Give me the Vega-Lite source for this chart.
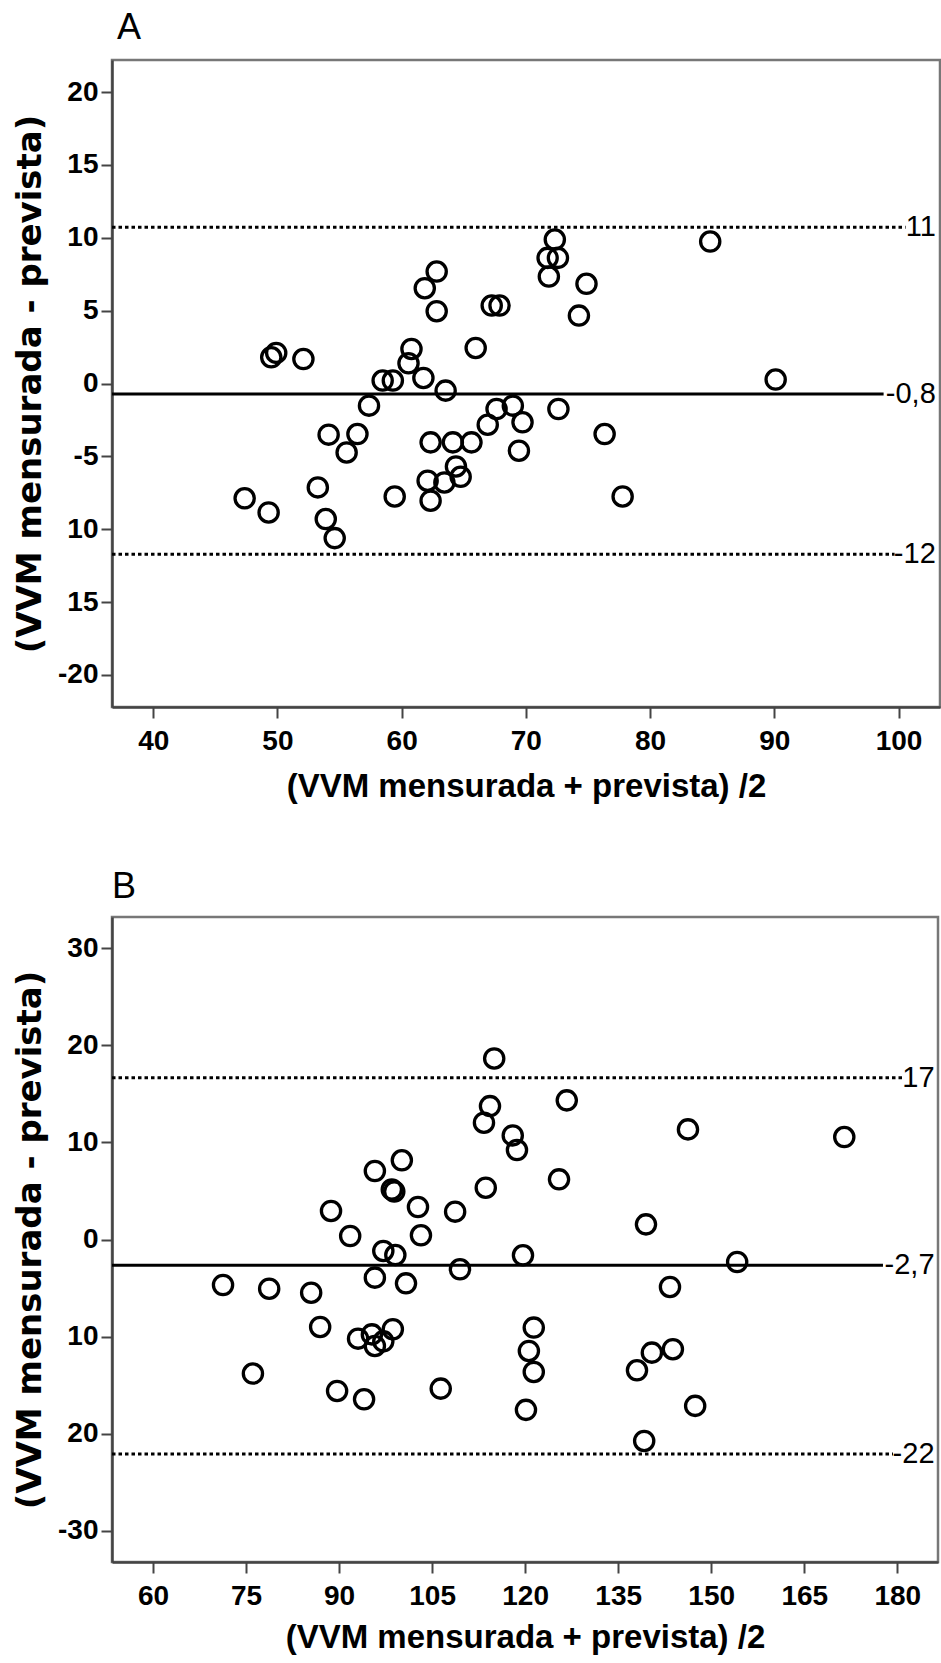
{
  "$schema": "https://vega.github.io/schema/vega-lite/v6.json",
  "padding": {"left": 12, "top": 8, "right": 0, "bottom": 0},
  "background": "white",
  "datasets": {
    "a_points": [
      {"mean": 84.84, "diff": 9.74}, {"mean": 72.33, "diff": 9.88}, {"mean": 71.75, "diff": 8.62}, {"mean": 72.58, "diff": 8.62},
      {"mean": 71.85, "diff": 7.34}, {"mean": 74.88, "diff": 6.84}, {"mean": 62.82, "diff": 7.68}, {"mean": 61.86, "diff": 6.54},
      {"mean": 62.82, "diff": 4.96}, {"mean": 67.25, "diff": 5.35}, {"mean": 67.88, "diff": 5.35}, {"mean": 74.27, "diff": 4.66},
      {"mean": 49.5, "diff": 1.8}, {"mean": 49.9, "diff": 2.1}, {"mean": 52.09, "diff": 1.68}, {"mean": 60.79, "diff": 2.37},
      {"mean": 60.55, "diff": 1.39}, {"mean": 65.96, "diff": 2.44}, {"mean": 58.47, "diff": 0.2}, {"mean": 59.29, "diff": 0.2},
      {"mean": 61.75, "diff": 0.38}, {"mean": 90.11, "diff": 0.27}, {"mean": 63.54, "diff": -0.49}, {"mean": 57.37, "diff": -1.52},
      {"mean": 67.64, "diff": -1.75}, {"mean": 68.95, "diff": -1.52}, {"mean": 72.62, "diff": -1.75}, {"mean": 66.93, "diff": -2.83},
      {"mean": 69.73, "diff": -2.66}, {"mean": 54.12, "diff": -3.51}, {"mean": 56.44, "diff": -3.47}, {"mean": 76.34, "diff": -3.47},
      {"mean": 55.57, "diff": -4.73}, {"mean": 62.33, "diff": -4.04}, {"mean": 64.12, "diff": -4.04}, {"mean": 65.62, "diff": -4.04},
      {"mean": 69.44, "diff": -4.61}, {"mean": 64.37, "diff": -5.69}, {"mean": 64.75, "diff": -6.4}, {"mean": 62.09, "diff": -6.67},
      {"mean": 63.44, "diff": -6.79}, {"mean": 53.25, "diff": -7.13}, {"mean": 47.36, "diff": -7.88}, {"mean": 59.44, "diff": -7.75},
      {"mean": 62.33, "diff": -8.04}, {"mean": 77.79, "diff": -7.75}, {"mean": 49.29, "diff": -8.85}, {"mean": 53.89, "diff": -9.3},
      {"mean": 54.61, "diff": -10.61}
    ],
    "a_lines": [
      {"line": "upper", "value": 10.73, "label": "11"},
      {"line": "mean", "value": -0.72, "label": "-0,8"},
      {"line": "lower", "value": -11.71, "label": "-12"}
    ],
    "b_points": [
      {"mean": 115.01, "diff": 18.66}, {"mean": 114.33, "diff": 13.75}, {"mean": 126.71, "diff": 14.34}, {"mean": 113.36, "diff": 12.04},
      {"mean": 146.25, "diff": 11.35}, {"mean": 171.45, "diff": 10.56}, {"mean": 118.0, "diff": 10.73}, {"mean": 118.68, "diff": 9.22},
      {"mean": 100.12, "diff": 8.16}, {"mean": 95.77, "diff": 7.06}, {"mean": 125.46, "diff": 6.2}, {"mean": 98.5, "diff": 5.15},
      {"mean": 98.9, "diff": 4.95}, {"mean": 113.65, "diff": 5.34}, {"mean": 102.72, "diff": 3.35}, {"mean": 88.7, "diff": 2.94},
      {"mean": 108.71, "diff": 2.87}, {"mean": 139.48, "diff": 1.56}, {"mean": 91.79, "diff": 0.36}, {"mean": 103.2, "diff": 0.43},
      {"mean": 97.13, "diff": -1.18}, {"mean": 99.07, "diff": -1.6}, {"mean": 119.65, "diff": -1.63}, {"mean": 154.18, "diff": -2.32},
      {"mean": 109.49, "diff": -3.07}, {"mean": 95.77, "diff": -3.93}, {"mean": 71.29, "diff": -4.69}, {"mean": 100.79, "diff": -4.52},
      {"mean": 78.73, "diff": -5.07}, {"mean": 85.5, "diff": -5.48}, {"mean": 143.35, "diff": -4.89}, {"mean": 86.95, "diff": -9.01},
      {"mean": 121.39, "diff": -9.08}, {"mean": 98.67, "diff": -9.25}, {"mean": 93.06, "diff": -10.22}, {"mean": 95.29, "diff": -9.78},
      {"mean": 97.13, "diff": -10.5}, {"mean": 95.77, "diff": -10.97}, {"mean": 120.6, "diff": -11.49}, {"mean": 140.43, "diff": -11.66},
      {"mean": 143.82, "diff": -11.31}, {"mean": 76.11, "diff": -13.82}, {"mean": 121.39, "diff": -13.65}, {"mean": 138.03, "diff": -13.48},
      {"mean": 89.68, "diff": -15.61}, {"mean": 94.03, "diff": -16.47}, {"mean": 106.39, "diff": -15.37}, {"mean": 120.13, "diff": -17.56},
      {"mean": 147.41, "diff": -17.15}, {"mean": 139.19, "diff": -20.76}
    ],
    "b_lines": [
      {"line": "upper", "value": 16.67, "label": "17"},
      {"line": "mean", "value": -2.66, "label": "-2,7"},
      {"line": "lower", "value": -22.1, "label": "-22"}
    ]
  },
  "config": {
    "view": {"stroke": "#777777", "strokeWidth": 2.5},
    "axis": {
      "grid": false,
      "labelFont": "Liberation Sans",
      "labelFontWeight": "bold",
      "labelFontSize": 28,
      "labelColor": "black",
      "tickSize": 11,
      "tickWidth": 2,
      "tickColor": "#444444",
      "domainColor": "#444444",
      "domainWidth": 2.5,
      "titleColor": "black",
      "titleFontWeight": "bold"
    },
    "axisX": {"labelPadding": 9, "titleFont": "Liberation Sans", "titleFontSize": 33},
    "axisY": {"labelPadding": 3, "titleFont": "DejaVu Sans", "titleFontSize": 34, "titlePadding": 10},
    "title": {"font": "Liberation Sans", "fontSize": 36, "fontWeight": "normal", "anchor": "start", "frame": "group", "color": "black"}
  },
  "spacing": 62,
  "vconcat": [
    {
      "title": {"text": "A", "dx": 5, "offset": 13},
      "width": 828,
      "height": 647,
      "layer": [
        {
          "data": {"name": "a_lines"},
          "transform": [{"filter": "datum.line == 'upper'"}],
          "mark": {"type": "rule", "strokeWidth": 3, "strokeDash": [3.5, 3], "color": "black"},
          "encoding": {"x": {"datum": 36.68}, "x2": {"datum": 100.57}, "y": {"field": "value", "type": "quantitative"}}
        },
        {
          "data": {"name": "a_lines"},
          "transform": [{"filter": "datum.line == 'lower'"}],
          "mark": {"type": "rule", "strokeWidth": 3, "strokeDash": [3.5, 3], "color": "black"},
          "encoding": {"x": {"datum": 36.68}, "x2": {"datum": 99.68}, "y": {"field": "value", "type": "quantitative"}}
        },
        {
          "data": {"name": "a_lines"},
          "transform": [{"filter": "datum.line == 'mean'"}],
          "mark": {"type": "rule", "strokeWidth": 3, "color": "black"},
          "encoding": {"x": {"datum": 36.68}, "x2": {"datum": 98.8}, "y": {"field": "value", "type": "quantitative"}}
        },
        {
          "data": {"name": "a_lines"},
          "mark": {"type": "text", "align": "right", "baseline": "middle", "font": "Liberation Sans", "fontSize": 29, "color": "black"},
          "encoding": {"x": {"datum": 103.0}, "y": {"field": "value", "type": "quantitative"}, "text": {"field": "label", "type": "nominal"}}
        },
        {
          "data": {"name": "a_points"},
          "mark": {"type": "point", "shape": "circle", "filled": false, "size": 370, "strokeWidth": 3.3, "color": "black", "opacity": 1},
          "encoding": {
            "x": {"field": "mean", "type": "quantitative", "title": "(VVM mensurada + prevista) /2",
              "scale": {"domain": [36.68, 103.34], "nice": false, "zero": false},
              "axis": {"values": [40, 50, 60, 70, 80, 90, 100], "titlePadding": 15}},
            "y": {"field": "diff", "type": "quantitative", "title": "(VVM mensurada - prevista)",
              "scale": {"domain": [-22.2, 22.2], "nice": false, "zero": false},
              "axis": {"values": [-20, -15, -10, -5, 0, 5, 10, 15, 20],
                "labelExpr": "datum.value == -20 ? '-20' : datum.value == -15 ? '15' : datum.value == -10 ? '10' : datum.value == -5 ? '-5' : datum.label"}}
          }
        }
      ]
    },
    {
      "title": {"text": "B", "dx": 0, "offset": 11},
      "width": 826,
      "height": 645,
      "layer": [
        {
          "data": {"name": "b_lines"},
          "transform": [{"filter": "datum.line == 'upper'"}],
          "mark": {"type": "rule", "strokeWidth": 3, "strokeDash": [3.5, 3], "color": "black"},
          "encoding": {"x": {"datum": 53.39}, "x2": {"datum": 180.91}, "y": {"field": "value", "type": "quantitative"}}
        },
        {
          "data": {"name": "b_lines"},
          "transform": [{"filter": "datum.line == 'lower'"}],
          "mark": {"type": "rule", "strokeWidth": 3, "strokeDash": [3.5, 3], "color": "black"},
          "encoding": {"x": {"datum": 53.39}, "x2": {"datum": 179.3}, "y": {"field": "value", "type": "quantitative"}}
        },
        {
          "data": {"name": "b_lines"},
          "transform": [{"filter": "datum.line == 'mean'"}],
          "mark": {"type": "rule", "strokeWidth": 3, "color": "black"},
          "encoding": {"x": {"datum": 53.39}, "x2": {"datum": 177.69}, "y": {"field": "value", "type": "quantitative"}}
        },
        {
          "data": {"name": "b_lines"},
          "mark": {"type": "text", "align": "right", "baseline": "middle", "font": "Liberation Sans", "fontSize": 29, "color": "black"},
          "encoding": {"x": {"datum": 186.0}, "y": {"field": "value", "type": "quantitative"}, "text": {"field": "label", "type": "nominal"}}
        },
        {
          "data": {"name": "b_points"},
          "mark": {"type": "point", "shape": "circle", "filled": false, "size": 370, "strokeWidth": 3.3, "color": "black", "opacity": 1},
          "encoding": {
            "x": {"field": "mean", "type": "quantitative", "title": "(VVM mensurada + prevista) /2",
              "scale": {"domain": [53.39, 186.56], "nice": false, "zero": false},
              "axis": {"values": [60, 75, 90, 105, 120, 135, 150, 165, 180], "titlePadding": 11}},
            "y": {"field": "diff", "type": "quantitative", "title": "(VVM mensurada - prevista)",
              "scale": {"domain": [-33.24, 33.24], "nice": false, "zero": false},
              "axis": {"values": [-30, -20, -10, 0, 10, 20, 30],
                "labelExpr": "datum.value == -30 ? '-30' : datum.value == -20 ? '20' : datum.value == -10 ? '10' : datum.label"}}
          }
        }
      ]
    }
  ]
}
